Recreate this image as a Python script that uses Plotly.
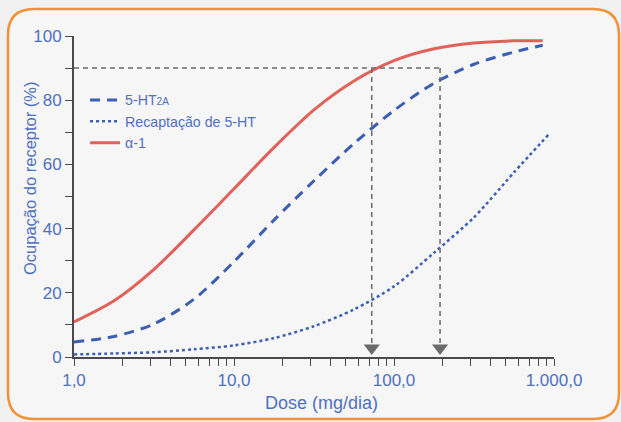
import plotly.graph_objects as go

# ---------------- data ----------------
dose = [1, 1.78, 3.16, 5.62, 10, 17.8, 31.6, 56.2, 100, 178, 316, 562, 850]
alpha1 = [10.9, 17.5, 27.3, 39.6, 52.4, 65.3, 77.0, 86.0, 92.3, 96.0, 97.8, 98.5, 98.5]
ht2a = [4.7, 6.4, 10.3, 18.0, 29.7, 42.7, 54.9, 66.5, 76.8, 85.3, 91.2, 95.0, 97.1]
dose_reup = [1, 1.78, 3.16, 5.62, 10, 17.8, 31.6, 56.2, 100, 178, 316, 562, 925]
reuptake = [0.8, 1.1, 1.5, 2.4, 3.6, 5.9, 9.6, 14.8, 22.0, 32.5, 43.5, 57.5, 69.3]

guide_level = 90
guide_doses = [72.6, 194]

x_major = [1, 10, 100, 1000]
x_major_labels = ["1,0", "10,0", "100,0", "1.000,0"]
y_ticks = list(range(0, 101, 10))
y_labels = ["0", "", "20", "", "40", "", "60", "", "80", "", "100"]

# ---------------- style ----------------
RED = "#e2615b"
BLUE = "#3d5fb3"
TXT = "#5070c0"
GRAY = "#6b6b6b"
AX = "#4a4a4a"
FONT = "Liberation Sans"

W, H = 621, 422
ML, MR, MT, MB = 74, 67, 36, 65
PW, PH = W - ML - MR, H - MT - MB

def px2paper(px, py):
    return (px - ML) / PW, (H - MB - py) / PH

fig = go.Figure()

fig.add_trace(go.Scatter(x=dose, y=ht2a, mode="lines", name="5-HT<span style='font-size:10px'>2A</span>",
                         line=dict(color=BLUE, width=3, dash="10px,7px", shape="spline", smoothing=0.8)))
fig.add_trace(go.Scatter(x=dose_reup, y=reuptake, mode="lines", name="Recaptação de 5-HT",
                         line=dict(color=BLUE, width=2.5, dash="dot", shape="spline", smoothing=0.8)))
fig.add_trace(go.Scatter(x=dose, y=alpha1, mode="lines", name="α-1",
                         line=dict(color=RED, width=3, shape="spline", smoothing=0.8)))

# guide lines
fig.add_trace(go.Scatter(x=[1, guide_doses[1]], y=[guide_level, guide_level], mode="lines",
                         line=dict(color=GRAY, width=1.5, dash="5px,4px"), showlegend=False, hoverinfo="skip"))
for d in guide_doses:
    fig.add_trace(go.Scatter(x=[d, d], y=[guide_level, 4], mode="lines",
                             line=dict(color=GRAY, width=1.5, dash="5px,4px"), showlegend=False, hoverinfo="skip"))
fig.add_trace(go.Scatter(x=guide_doses, y=[2.8, 2.8], mode="markers",
                         marker=dict(symbol="triangle-down", size=14, color=GRAY),
                         showlegend=False, hoverinfo="skip"))

# x ticks (major + minor)
x_ticks, x_text = [], []
for i, m in enumerate(x_major):
    x_ticks.append(m)
    x_text.append(x_major_labels[i])
    if m < 1000:
        for k in range(2, 10):
            x_ticks.append(m * k)
            x_text.append("")

# rounded orange frame
x0, y0, x1, y1, r = 8, 9, 619, 419, 26
def P(px, py):
    a, b = px2paper(px, py)
    return f"{a:.5f},{b:.5f}"
path = (f"M {P(x0 + r, y0)} L {P(x1 - r, y0)} Q {P(x1, y0)} {P(x1, y0 + r)} "
        f"L {P(x1, y1 - r)} Q {P(x1, y1)} {P(x1 - r, y1)} "
        f"L {P(x0 + r, y1)} Q {P(x0, y1)} {P(x0, y1 - r)} "
        f"L {P(x0, y0 + r)} Q {P(x0, y0)} {P(x0 + r, y0)} Z")
fig.add_shape(type="path", path=path, xref="paper", yref="paper",
              line=dict(color="#f39137", width=2.5), fillcolor="rgba(250,250,250,0.6)", layer="below")

# axis titles as annotations for exact placement
fig.add_annotation(text="Dose (mg/dia)", xref="paper", yref="paper", x=px2paper(321, 0)[0], y=px2paper(0, 403)[1],
                   showarrow=False, xanchor="center", yanchor="middle", font=dict(size=18, color=TXT))
fig.add_annotation(text="Ocupação do receptor (%)", xref="paper", yref="paper", x=px2paper(30, 0)[0],
                   y=px2paper(0, 178)[1], textangle=-90, showarrow=False, xanchor="center", yanchor="middle",
                   font=dict(size=16.5, color=TXT))

fig.update_layout(
    width=W, height=H,
    margin=dict(l=ML, r=MR, t=MT, b=MB, autoexpand=False),
    paper_bgcolor="#f1f1f1",
    plot_bgcolor="rgba(0,0,0,0)",
    font=dict(family=FONT, color=TXT, size=15),
    showlegend=True,
    legend=dict(x=0.023, y=0.85, xanchor="left", yanchor="top", bgcolor="rgba(0,0,0,0)",
                font=dict(size=14.2, color=TXT, family=FONT), itemwidth=30, tracegroupgap=0),
    xaxis=dict(type="log", range=[0, 3], tickvals=x_ticks, ticktext=x_text, ticks="outside",
               ticklen=7, tickcolor=AX, tickwidth=1.2, showline=True, linecolor=AX, linewidth=2,
               showgrid=False, zeroline=False, tickfont=dict(size=17, color=TXT), automargin=False),
    yaxis=dict(range=[0, 100], tickvals=y_ticks, ticktext=y_labels, ticks="outside",
               ticklen=7, tickcolor=AX, tickwidth=1.2, showline=True, linecolor=AX, linewidth=2,
               showgrid=False, zeroline=False, tickfont=dict(size=17, color=TXT), automargin=False),
)

fig.write_html("out.html", config={"displayModeBar": False},
               post_script="document.body.style.margin='0px';")
